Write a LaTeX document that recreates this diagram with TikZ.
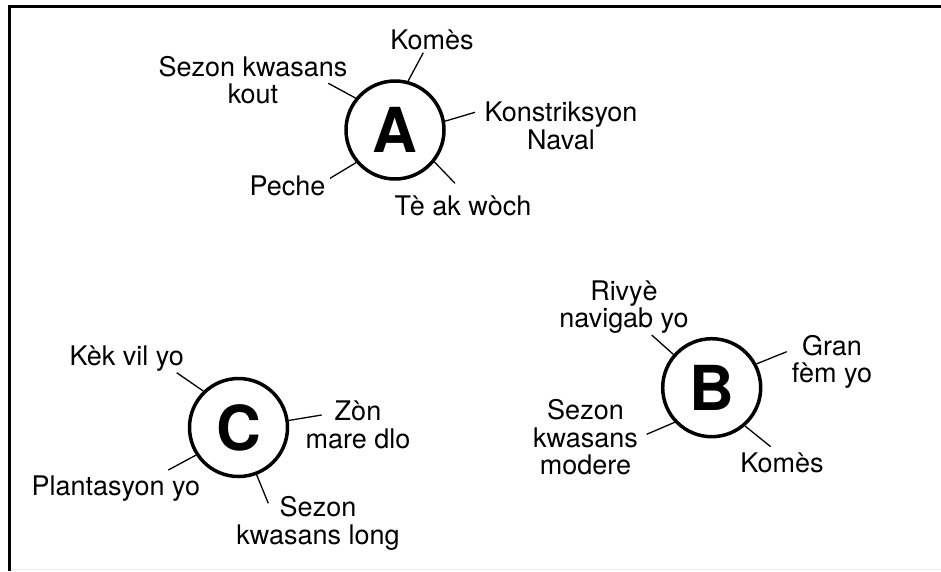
\documentclass[tikz,border=0pt]{standalone}
\usepackage{fontspec}
\setmainfont{TeX Gyre Heros}
\begin{document}
\begin{tikzpicture}[x=1pt, y=-1pt]

\tikzstyle{hub} = [circle, draw, line width=3.5pt, minimum size=98pt, inner sep=0pt,
                   font=\bfseries\fontsize{62}{62}\selectfont]
\tikzstyle{lbl} = [align=center, inner sep=0pt, font=\fontsize{27}{27.5}\selectfont]
\tikzstyle{tick} = [line width=1.3pt]

\useasboundingbox (0,0) rectangle (941,571);

% frame
\draw[line width=3pt] (941,6) -- (9.5,6) -- (9.5,571);
\draw[gray!15, line width=1pt] (11,569.5) -- (941,569.5);

% A
\node[hub] (a) at (395,130) {A};
\node[lbl] (a1) at (432,40) {Komès};
\node[lbl] (a2) at (253,80) {Sezon kwasans\\kout};
\node[lbl] (a3) at (561,126) {Konstriksyon\\Naval};
\node[lbl] (a4) at (287.5,186) {Peche};
\node[lbl] (a5) at (463,206) {Tè ak wòch};

\coordinate (a1e) at (423.3,52.7);
\coordinate (a2e) at (328.3,83.3);
\coordinate (a3e) at (475,112.3);
\coordinate (a4e) at (330,178.3);
\coordinate (a5e) at (455,183.3);

\draw[tick] (a.75) -- (a1e);
\draw[tick] (a.141) -- (a2e);
\draw[tick] (a.10) -- (a3e);
\draw[tick] (a.220) -- (a4e);
\draw[tick] (a.321) -- (a5e);

% B
\node[hub] (b) at (711.7,387.7) {B};
\node[lbl] (b1) at (624,307) {Rivyè\\navigab yo};
\node[lbl] (b2) at (832,362) {Gran\\fèm yo};
\node[lbl] (b3) at (585.5,437.5) {Sezon\\kwasans\\modere};
\node[lbl] (b4) at (782,462.5) {Komès};

\coordinate (b1e) at (651.7,335);
\coordinate (b2e) at (786.7,351.7);
\coordinate (b3e) at (646.7,434.3);
\coordinate (b4e) at (770.7,446.7);

\draw[tick] (b.139) -- (b1e);
\draw[tick] (b.28) -- (b2e);
\draw[tick] (b.223) -- (b3e);
\draw[tick] (b.311) -- (b4e);

% C
\node[hub] (c) at (238.5,427.5) {C};
\node[lbl] (c1) at (126.7,359) {Kèk vil yo};
\node[lbl] (c2) at (358,424.7) {Zòn\\mare dlo};
\node[lbl] (c3) at (115.8,488.3) {Plantasyon yo};
\node[lbl] (c4) at (318,523.3) {Sezon\\kwasans long};

\coordinate (c1e) at (176.7,372.7);
\coordinate (c2e) at (321.7,415);
\coordinate (c3e) at (168.3,470);
\coordinate (c4e) at (268.3,503.3);

\draw[tick] (c.134) -- (c1e);
\draw[tick] (c.8) -- (c2e);
\draw[tick] (c.213) -- (c3e);
\draw[tick] (c.291) -- (c4e);
\end{tikzpicture}
\end{document}
